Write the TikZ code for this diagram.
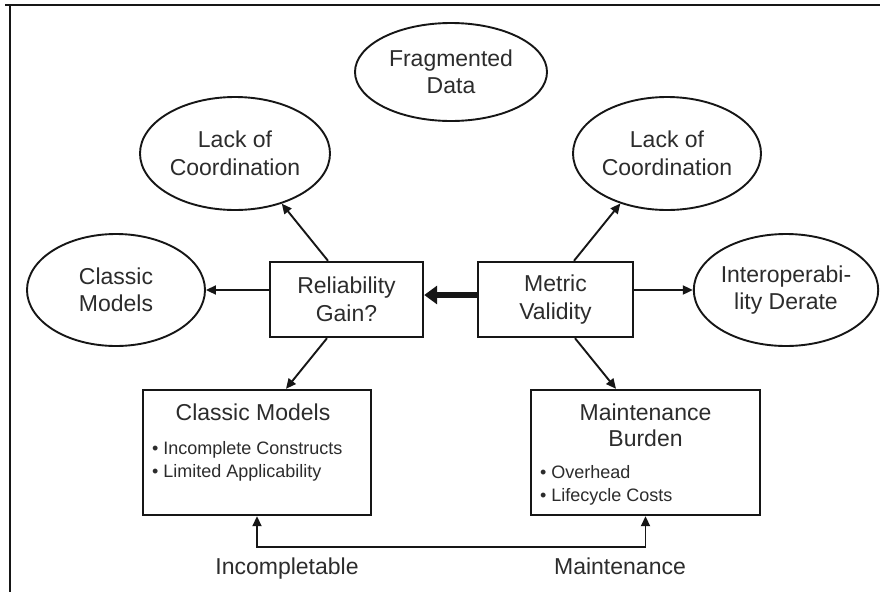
\documentclass[tikz,border=0pt]{standalone}
\usepackage{fontspec}
\setmainfont{Liberation Sans}
\usetikzlibrary{arrows.meta,shapes.geometric,calc}

\definecolor{ink}{HTML}{161616}
\definecolor{txt}{HTML}{2C2C2C}

\begin{document}
\begin{tikzpicture}[x=1pt,y=-1pt,
  every node/.style={text=txt, inner sep=0pt},
  big/.style={font=\fontsize{23}{27.5}\selectfont},
  small/.style={font=\fontsize{18}{22}\selectfont},
  oval/.style={ellipse, draw=ink, line width=1.9pt, align=center, big},
  stepbox/.style={rectangle, draw=ink, line width=2.4pt, align=center, big},
  arr/.style={draw=ink, line width=1.9pt, -{Triangle[length=10pt,width=9pt]}},
  dblarr/.style={draw=ink, line width=1.9pt, {Triangle[length=10pt,width=9pt]}-{Triangle[length=10pt,width=9pt]}},
  heavy/.style={draw=ink, line width=6pt, -{Triangle[length=13pt,width=18pt]}}
]
% canvas and frame edges
\useasboundingbox (0,0) rectangle (880,592);
\fill[white] (0,0) rectangle (880,592);
\draw[ink, line width=2pt] (5,5) -- (880,5);
\draw[ink, line width=2pt] (10,5) -- (10,592);

% outer ellipses
\node[oval, minimum width=192pt, minimum height=98pt] (frag) at (451,72) {Fragmented\\Data};
\node[oval, minimum width=190pt, minimum height=113pt] (lackL) at (235,153.5) {Lack of\\Coordination};
\node[oval, minimum width=188pt, minimum height=113pt] (lackR) at (667,153.5) {Lack of\\Coordination};
\node[oval, minimum width=178pt, minimum height=112pt] (clsE) at (116,290) {Classic\\Models};
\node[oval, minimum width=178pt, minimum height=112pt] (iop) at (786,290) {Interoperabi-\\lity Derate};

% central boxes
\node[stepbox, minimum width=153pt, minimum height=75pt] (rel) at (346.5,299.5) {Reliability\\Gain?};
\node[stepbox, minimum width=155pt, minimum height=75pt] (met) at (555.5,299.5) {Metric\\Validity};

% lower boxes
\node[stepbox, minimum width=228pt, minimum height=125pt] (cls) at (257,452.5) {};
\node[stepbox, minimum width=229pt, minimum height=125pt] (mnt) at (645.5,452.5) {};

\node[big, anchor=base] (clsT) at ($(cls.north)+(-4,32)$) {Classic Models};
\node[small, anchor=base west] (clsA) at ($(cls.north west)+(10,66)$) {• Incomplete Constructs};
\node[small, anchor=base west] (clsB) at ($(cls.north west)+(10,89)$) {• Limited Applicability};

\node[big, anchor=base] (mntT) at ($(mnt.north)+(0,32)$) {Maintenance};
\node[big, anchor=base] (mntU) at ($(mnt.north)+(0,58)$) {Burden};
\node[small, anchor=base west] (mntA) at ($(mnt.north west)+(10,90)$) {• Overhead};
\node[small, anchor=base west] (mntB) at ($(mnt.north west)+(10,113)$) {• Lifecycle Costs};

% bottom labels
\node[big, anchor=base] (incl) at (287,574) {Incompletable};
\node[big, anchor=base] (mntl) at (620,574) {Maintenance};

% connectors
\draw[heavy] ([yshift=4.5pt]met.west) -- ([yshift=4.5pt]rel.east);
\draw[arr] ([yshift=9.5pt]rel.west) -- (clsE.east);
\draw[arr] ([yshift=9.5pt]met.east) -- (iop.west);
\draw[arr] ([xshift=-18.5pt]rel.north) -- (lackL.-47);
\draw[arr] ([xshift=18.5pt]met.north) -- (lackR.-133);
\draw[arr] ([xshift=-19.5pt]rel.south) -- ([xshift=29pt]cls.north);
\draw[arr] ([xshift=19.5pt]met.south) -- ([xshift=-29.5pt]mnt.north);

\coordinate (jr) at (645.5,547);
\draw[dblarr] (cls.south) |- (jr) -- (mnt.south);
\end{tikzpicture}
\end{document}
